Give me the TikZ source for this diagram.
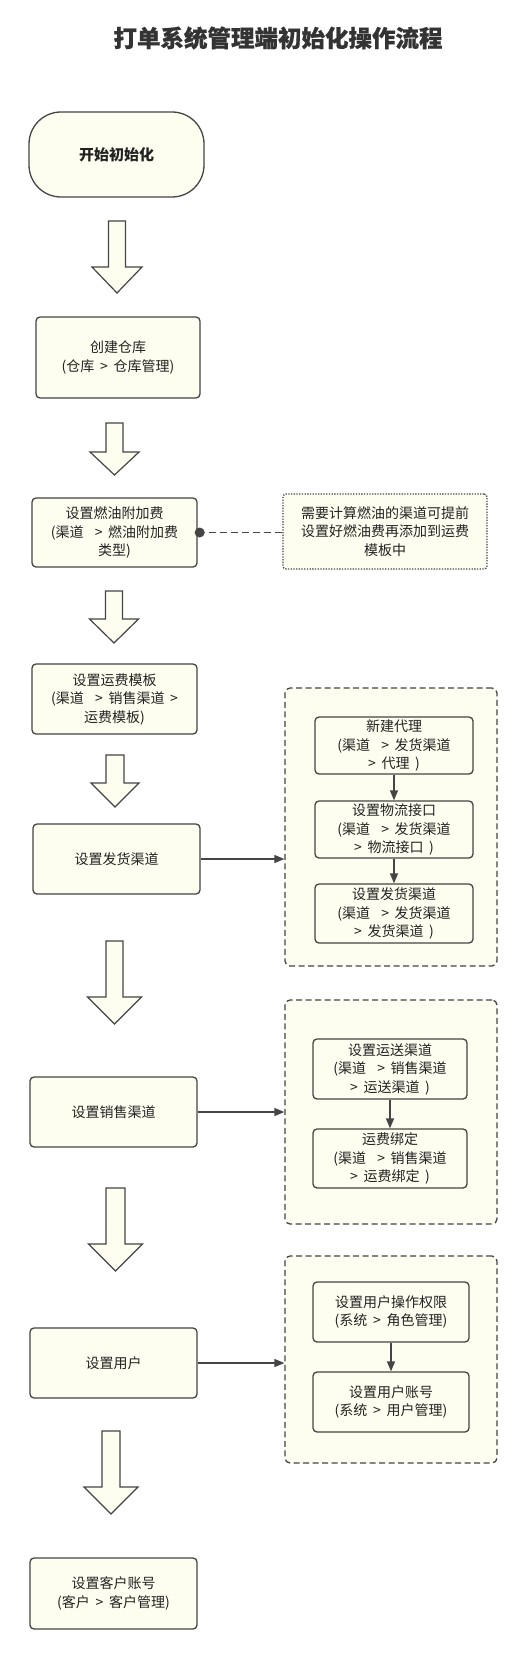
\documentclass[tikz,border=0pt]{standalone}
\usepackage{fontspec}
\setmainfont{Noto Sans CJK SC}[WordSpace=1.8]
\usetikzlibrary{arrows.meta}
\definecolor{edgecol}{HTML}{454545}
\definecolor{boxfill}{HTML}{FEFEF0}
\definecolor{txtcol}{HTML}{222222}
\definecolor{titlecol}{HTML}{333333}
% block arrow: centre x, top, head base, tip, half shaft, half head
\newcommand\blockarr[6]{%
  \draw[bigarrow] ({#1-#5},#2) -- ({#1+#5},#2) -- ({#1+#5},#3) -- ({#1+#6},#3)
    -- (#1,#4) -- ({#1-#6},#3) -- ({#1-#5},#3) -- cycle;}
\begin{document}
\begin{tikzpicture}[x=1pt,y=-1pt,
  every node/.style={text=txtcol},
  bodyfont/.style={font=\fontsize{14}{18.5}\selectfont},
  mainbox/.style={draw=edgecol,fill=boxfill,line width=1.3pt,rounded corners=4pt,
    inner sep=0pt,align=center,bodyfont},
  startbox/.style={mainbox,rounded corners=32pt,font=\fontsize{15}{18}\selectfont\bfseries},
  groupbox/.style={draw=edgecol,fill=boxfill,line width=1.3pt,rounded corners=5pt,
    dash pattern=on 6pt off 3.5pt,inner sep=0pt},
  notebox/.style={draw=edgecol,fill=boxfill,line width=1.3pt,rounded corners=3pt,
    dash pattern=on 1.3pt off 1.4pt,inner sep=0pt,align=center,bodyfont},
  bigarrow/.style={draw=edgecol,fill=boxfill,line width=1.2pt,line join=miter},
  conn/.style={draw=edgecol,line width=1.3pt,-{Triangle[length=10pt,width=8pt]}},
  notelink/.style={draw=edgecol,line width=1.5pt,dash pattern=on 7pt off 4pt}
]
\useasboundingbox (0,0) rectangle (530,1653);
\fill[white] (0,0) rectangle (530,1653);

\node[text=titlecol,font=\fontsize{23.5}{28}\selectfont\bfseries\addfontfeature{FakeBold=0.6}] (title) at (278,38) {打单系统管理端初始化操作流程};

% main column
\node[startbox,minimum width=175pt,minimum height=85pt] (start) at (116.5,154.5) {开始初始化};
\node[mainbox,minimum width=164pt,minimum height=81pt] (b1) at (118,357.5) {创建仓库\\(仓库 > 仓库管理)};
\node[mainbox,minimum width=165pt,minimum height=69pt] (b2) at (114.5,532.5) {设置燃油附加费\\(渠道\ \ > 燃油附加费\\类型)};
\node[mainbox,minimum width=165pt,minimum height=70pt] (b3) at (114.5,699) {设置运费模板\\(渠道\ \ > 销售渠道 >\\运费模板)};
\node[mainbox,minimum width=167pt,minimum height=70pt] (b4) at (116.5,859) {设置发货渠道};
\node[mainbox,minimum width=167pt,minimum height=70pt] (b5) at (113.5,1112) {设置销售渠道};
\node[mainbox,minimum width=167pt,minimum height=70pt] (b6) at (113.5,1363) {设置用户};
\node[mainbox,minimum width=167pt,minimum height=71pt] (b7) at (113.5,1593.5) {设置客户账号\\(客户 > 客户管理)};

% note
\node[notebox,minimum width=204pt,minimum height=75pt] (note) at (385,531.5) {需要计算燃油的渠道可提前\\设置好燃油费再添加到运费\\模板中};

% groups
\node[groupbox,minimum width=212pt,minimum height=278pt] (g1) at (391,827) {};
\node[groupbox,minimum width=212pt,minimum height=224pt] (g2) at (391,1112) {};
\node[groupbox,minimum width=212pt,minimum height=207pt] (g3) at (391,1359.5) {};

% inner boxes
\node[mainbox,minimum width=158pt,minimum height=57pt] (iA) at (394,745.5) {新建代理\\(渠道\ \ > 发货渠道\\> 代理 )};
\node[mainbox,minimum width=158pt,minimum height=57pt] (iB) at (394,829.5) {设置物流接口\\(渠道\ \ > 发货渠道\\> 物流接口 )};
\node[mainbox,minimum width=158pt,minimum height=59pt] (iC) at (394,913.5) {设置发货渠道\\(渠道\ \ > 发货渠道\\> 发货渠道 )};
\node[mainbox,minimum width=154pt,minimum height=60pt] (iD) at (390,1069) {设置运送渠道\\(渠道\ \ > 销售渠道\\> 运送渠道 )};
\node[mainbox,minimum width=154pt,minimum height=59pt] (iE) at (390,1158.5) {运费绑定\\(渠道\ \ > 销售渠道\\> 运费绑定 )};
\node[mainbox,minimum width=156pt,minimum height=60pt] (iF) at (391,1312) {设置用户操作权限\\(系统 > 角色管理)};
\node[mainbox,minimum width=156pt,minimum height=60pt] (iG) at (391,1402) {设置用户账号\\(系统 > 用户管理)};

% block arrows between main steps
\blockarr{117}{221}{267}{293}{8.5}{25}
\blockarr{114.5}{423}{452}{475}{8.5}{24.5}
\blockarr{114}{591}{619}{643}{8.5}{24.5}
\blockarr{115}{755}{783}{807}{9}{24}
\blockarr{114.5}{941}{997}{1024}{8.5}{27}
\blockarr{115.5}{1188}{1244}{1271}{9.5}{27}
\blockarr{111}{1431}{1487}{1514}{9}{27}

% note link
\draw[notelink] (b2.east) -- (b2.east -| note.west);
\fill[edgecol] (b2.east) ++(2pt,0) circle (5pt);

% connectors to groups
\draw[conn] (b4.east) -- (b4.east -| g1.west);
\draw[conn] (b5.east) -- (b5.east -| g2.west);
\draw[conn] (b6.east) -- (b6.east -| g3.west);

% inner connectors
\draw[conn] (iA) -- (iB);
\draw[conn] (iB) -- (iC);
\draw[conn] (iD) -- (iE);
\draw[conn] (iF) -- (iG);
\end{tikzpicture}
\end{document}
